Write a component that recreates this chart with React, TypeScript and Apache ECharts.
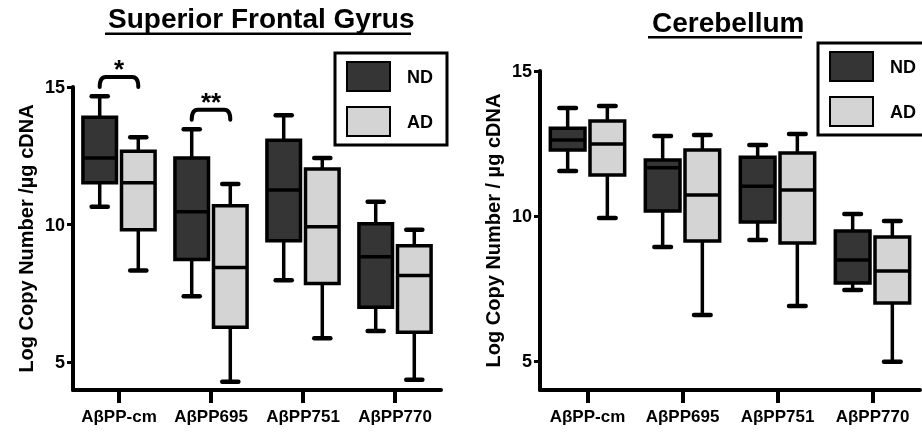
import React, { useEffect, useRef } from "react";
import * as echarts from "echarts";

const categories = ["AβPP-cm", "AβPP695", "AβPP751", "AβPP770"];
const yTickValues = [5, 10, 15];

// [min, Q1, median, Q3, max] per category
const sfgND = [
  [10.65, 11.52, 12.42, 13.9, 14.66],
  [7.4, 8.74, 10.47, 12.42, 13.47],
  [7.98, 9.42, 11.26, 13.07, 13.97],
  [6.14, 7.0, 8.84, 10.04, 10.83],
];
const sfgAD = [
  [8.34, 9.82, 11.52, 12.67, 13.18],
  [4.3, 6.28, 8.45, 10.69, 11.48],
  [5.88, 7.87, 9.93, 12.02, 12.42],
  [4.37, 6.1, 8.16, 9.24, 9.82],
];
const cbND = [
  [11.55, 12.28, 12.62, 13.03, 13.72],
  [8.93, 10.17, 11.66, 11.93, 12.76],
  [9.17, 9.79, 11.03, 12.03, 12.45],
  [7.45, 7.69, 8.48, 9.48, 10.07],
];
const cbAD = [
  [9.93, 11.41, 12.48, 13.28, 13.79],
  [6.59, 9.14, 10.72, 12.28, 12.79],
  [6.9, 9.07, 10.9, 12.17, 12.83],
  [4.97, 7.0, 8.1, 9.28, 9.83],
];

// significance brackets (left panel): category index, bracket level, label
const sigCategory = [0, 1];
const sigLevel = [15.36, 14.17];
const sigLabels = ["*", "**"];

const FONT = "'Liberation Sans', Arial, sans-serif";
const DARK = "#353535";
const LIGHT = "#d4d4d4";
const BOX_RATIO = 0.365;

function boxRender(sign: number, fill: string) {
  return (params: any, api: any) => {
    const cat = api.value(0);
    const bw = api.size([1, 0])[0];
    const boxW = bw * BOX_RATIO;
    const cx = api.coord([cat, 0])[0] + sign * (boxW / 2 + 2.5);
    const yMin = api.coord([cat, api.value(1)])[1];
    const yQ1 = api.coord([cat, api.value(2)])[1];
    const yMed = api.coord([cat, api.value(3)])[1];
    const yQ3 = api.coord([cat, api.value(4)])[1];
    const yMax = api.coord([cat, api.value(5)])[1];
    const capW = boxW * 0.48;
    const ls = { stroke: "#000", lineWidth: 3.5 };
    const cs = { stroke: "#000", lineWidth: 4.5, lineCap: "round" };
    return {
      type: "group",
      children: [
        { type: "line", shape: { x1: cx, y1: yQ3, x2: cx, y2: yMax }, style: ls },
        { type: "line", shape: { x1: cx, y1: yQ1, x2: cx, y2: yMin }, style: ls },
        { type: "line", shape: { x1: cx - capW / 2, y1: yMax, x2: cx + capW / 2, y2: yMax }, style: cs },
        { type: "line", shape: { x1: cx - capW / 2, y1: yMin, x2: cx + capW / 2, y2: yMin }, style: cs },
        {
          type: "rect",
          shape: { x: cx - boxW / 2, y: yQ3, width: boxW, height: yQ1 - yQ3 },
          style: { fill, stroke: "#000", lineWidth: 3.5 },
        },
        { type: "line", shape: { x1: cx - boxW / 2, y1: yMed, x2: cx + boxW / 2, y2: yMed }, style: ls },
      ],
    };
  };
}

function bracketRender(params: any, api: any) {
  const cat = api.value(0);
  const v = api.value(1);
  const bw = api.size([1, 0])[0];
  const boxW = bw * BOX_RATIO;
  const off = boxW / 2 + 2.5;
  const c = api.coord([cat, v]);
  const x1 = c[0] - off;
  const x2 = c[0] + off;
  const y = c[1];
  const drop = 10;
  const r = 6;
  return {
    type: "group",
    children: [
      {
        type: "path",
        shape: {
          pathData: `M${x1} ${y + drop} Q${x1} ${y} ${x1 + r} ${y} L${x2 - r} ${y} Q${x2} ${y} ${x2} ${y + drop}`,
        },
        style: { fill: "none", stroke: "#000", lineWidth: 4, lineCap: "round" },
      },
      {
        type: "text",
        style: {
          text: sigLabels[params.dataIndex],
          x: c[0],
          y: y - 8,
          textAlign: "center",
          textVerticalAlign: "middle",
          fontSize: 26,
          fontWeight: "bold",
          fontFamily: FONT,
          fill: "#000",
        },
      },
    ],
  };
}

function toData(arr: number[][]) {
  return arr.map((d, i) => [i, ...d]);
}

function xAxis(gridIndex: number) {
  return {
    type: "category",
    gridIndex,
    data: categories,
    axisLine: { show: true, onZero: false, lineStyle: { color: "#000", width: 4 } },
    axisTick: { show: true, alignWithLabel: true, length: 13, lineStyle: { color: "#000", width: 4 } },
    axisLabel: { interval: 0, margin: 18, fontSize: 17, fontWeight: "bold", color: "#000", fontFamily: FONT },
  };
}

function yAxis(gridIndex: number, name: string, nameGap: number) {
  return {
    type: "value",
    gridIndex,
    min: 4,
    max: 15,
    name,
    nameLocation: "middle",
    nameGap,
    nameTextStyle: { fontSize: 20, fontWeight: "bold", color: "#000", fontFamily: FONT },
    axisLine: { show: true, lineStyle: { color: "#000", width: 4 } },
    axisTick: { show: true, length: 6, customValues: yTickValues, lineStyle: { color: "#000", width: 3 } },
    axisLabel: { margin: 8, fontSize: 18, fontWeight: "bold", color: "#000", fontFamily: FONT, customValues: yTickValues },
    splitLine: { show: false },
  };
}

function legend(left: number, top: number) {
  return {
    left,
    top,
    orient: "vertical",
    selectedMode: false,
    icon: "rect",
    itemWidth: 43,
    itemHeight: 29,
    itemGap: 14,
    borderColor: "#000",
    borderWidth: 3,
    padding: [8, 14, 8, 11],
    textStyle: { fontSize: 18, fontWeight: "bold", color: "#000", fontFamily: FONT, padding: [0, 0, 0, 12] },
    data: [
      { name: "ND", itemStyle: { color: DARK, borderColor: "#000", borderWidth: 2 } },
      { name: "AD", itemStyle: { color: LIGHT, borderColor: "#000", borderWidth: 2 } },
    ],
  };
}

export default function App() {
  const ref = useRef<HTMLDivElement>(null);
  useEffect(() => {
    if (!ref.current) return;
    const chart = echarts.init(ref.current, null, { renderer: "svg" });
    const boxSeries = (name: string, data: number[][], idx: number, sign: number, fill: string) => ({
      type: "custom",
      name,
      xAxisIndex: idx,
      yAxisIndex: idx,
      data: toData(data),
      encode: { x: 0, y: [1, 2, 3, 4, 5] },
      itemStyle: { color: fill },
      renderItem: boxRender(sign, fill),
    });
    chart.setOption({
      animation: false,
      title: [
        { text: "Superior Frontal Gyrus", left: 103, top: -1, textStyle: { fontSize: 28, fontWeight: "bold", color: "#000", fontFamily: FONT } },
        { text: "Cerebellum", left: 647, top: 3, textStyle: { fontSize: 28, fontWeight: "bold", color: "#000", fontFamily: FONT } },
      ],
      graphic: [
        { type: "rect", shape: { x: 105, y: 32.5, width: 306, height: 2.5 }, style: { fill: "#000" } },
        { type: "rect", shape: { x: 648, y: 36, width: 154, height: 2.5 }, style: { fill: "#000" } },
      ],
      legend: [legend(335, 53), legend(818, 43)],
      grid: [
        { left: 73, top: 87, width: 368, height: 303 },
        { left: 540, top: 71, width: 380, height: 319 },
      ],
      xAxis: [xAxis(0), xAxis(1)],
      yAxis: [yAxis(0, "Log Copy Number /µg cDNA", 37), yAxis(1, "Log Copy Number / µg cDNA", 37)],
      series: [
        boxSeries("ND", sfgND, 0, -1, DARK),
        boxSeries("AD", sfgAD, 0, 1, LIGHT),
        boxSeries("ND", cbND, 1, -1, DARK),
        boxSeries("AD", cbAD, 1, 1, LIGHT),
        {
          type: "custom",
          name: "significance",
          xAxisIndex: 0,
          yAxisIndex: 0,
          data: sigCategory.map((c, i) => [c, sigLevel[i]]),
          encode: { x: 0, y: 1 },
          renderItem: bracketRender,
          clip: false,
        },
      ],
    });
    return () => chart.dispose();
  }, []);
  return <div ref={ref} style={{ position: "fixed", left: 0, top: 0, width: 922, height: 433 }} />;
}
